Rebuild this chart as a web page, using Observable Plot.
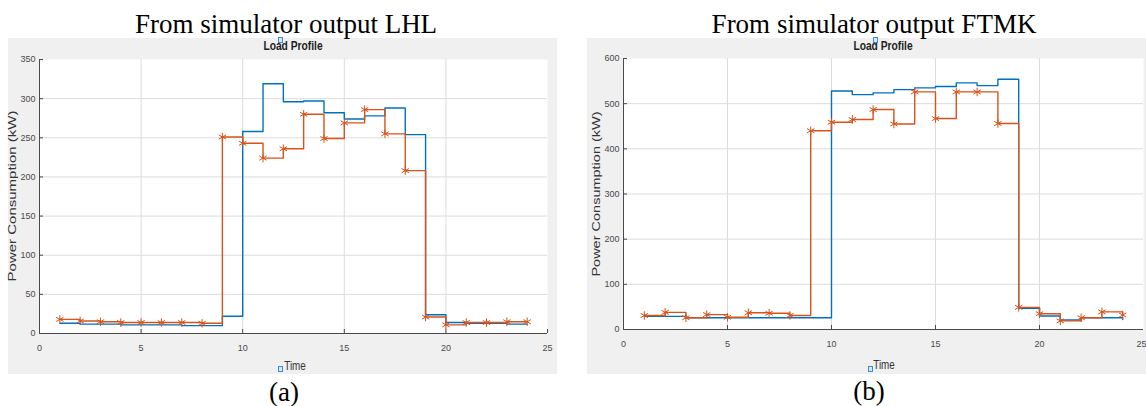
<!DOCTYPE html>
<html><head><meta charset="utf-8">
<script src="https://cdn.jsdelivr.net/npm/d3@7"></script>
<script src="https://cdn.jsdelivr.net/npm/@observablehq/plot@0.6"></script>
<style>
body{margin:0;background:#fff;}
#page{position:relative;width:1146px;height:406px;overflow:hidden;background:#fff;}
.panel{position:absolute;background:#f0f0f0;}
.chart{position:absolute;}
.t{position:absolute;white-space:nowrap;line-height:1;transform:translate(-50%,-50%);}
.serif{font-family:"Liberation Serif","Times New Roman",serif;font-size:27px;color:#000;}
.ico{position:absolute;width:3px;height:4px;border:1px solid #3d8bd4;background:#d6e8f7;}
</style>
</head><body>
<div id="page"></div>
<script>
// ---------- data ----------
const hours = [1,2,3,4,5,6,7,8,9,10,11,12,13,14,15,16,17,18,19,20,21,22,23,24];
const xTicks = [0,5,10,15,20];
const xLastTick = [25];
const xGrid = [5,10,15,20];

// (a) LHL
const lhlBlue   = [13,12,12,11,11,11,10,10,22,258,319,296,297,282,274,278,288,254,24,14,13,13,12,12];
const lhlOrange = [18,16,15,14,14,14,14,13,251,243,224,236,280,249,269,286,255,208,21,11,14,14,15,15];
const lhlYTicks = [0,50,100,150,200,250,300,350];
const lhlYGrid  = [50,100,150,200,250,300];

// (b) FTMK
const ftmkBlue   = [29,29,26,26,26,26,26,26,26,528,520,524,531,535,538,546,540,554,47,30,21,26,26,22];
const ftmkOrange = [31,38,26,33,27,37,36,31,440,459,465,487,455,526,467,526,526,456,49,35,19,26,39,32];
const ftmkYTicks = [0,100,200,300,400,500,600];
const ftmkYGrid  = [100,200,300,400,500];

const texts = {
  titleA: "From simulator output LHL",
  titleB: "From simulator output FTMK",
  plotTitle: "Load Profile",
  xLabel: "Time",
  yLabel: "Power Consumption (kW)",
  capA: "(a)",
  capB: "(b)"
};

const BLUE = "#0072BD", ORANGE = "#D95319", AX = "#4a4a4a";

// font detection (narrow sans if present)
const cv = document.createElement("canvas").getContext("2d");
cv.font = "20px 'Liberation Sans Narrow', monospace";
const w1 = cv.measureText("Power Consumption").width;
cv.font = "20px monospace";
const w2 = cv.measureText("Power Consumption").width;
const hasNarrow = Math.abs(w1 - w2) > 0.5;
const SANS = hasNarrow ? "'Liberation Sans Narrow', 'Liberation Sans', sans-serif" : "'Liberation Sans', Arial, sans-serif";
const nScale = hasNarrow ? 1 : 0.82;

const page = document.getElementById("page");
function div(cls, txt, x, y, style){
  const d = document.createElement("div");
  d.className = cls; if (txt != null) d.textContent = txt;
  d.style.left = x + "px"; d.style.top = y + "px";
  if (style) Object.assign(d.style, style);
  page.appendChild(d); return d;
}

function rows(arr){ return hours.map((t,i)=>({t, v: arr[i]})); }

function chart({blue, orange, yMax, yTicks, yGrid, ml, mr, mt, mb, lastAnchor}){
  const b = rows(blue), o = rows(orange);
  return Plot.plot({
    width: 573, height: 336,
    marginLeft: ml, marginRight: mr, marginTop: mt, marginBottom: mb,
    style: {background: "transparent", fontFamily: SANS, fontSize: (hasNarrow ? 10 : 9) + "px", color: AX, overflow: "visible"},
    x: {domain: [0, 25]},
    y: {domain: [0, yMax]},
    marks: [
      Plot.frame({fill: "white", stroke: null}),
      Plot.gridX(xGrid, {stroke: "#dcdcdc", strokeOpacity: 1}),
      Plot.gridY(yGrid, {stroke: "#dcdcdc", strokeOpacity: 1}),
      Plot.ruleX([0], {stroke: AX}),
      Plot.ruleY([0], {stroke: AX}),
      Plot.axisX(xTicks, {tickSize: -4, tickPadding: 15, label: null, stroke: AX}),
      Plot.axisX(xLastTick, {tickSize: -4, tickPadding: 15, label: null, stroke: AX, textAnchor: lastAnchor, dx: lastAnchor === "end" ? 3 : 0}),
      Plot.axisY(yTicks, {tickSize: -4, tickPadding: 8, label: null, stroke: AX}),
      Plot.line(b, {x: "t", y: "v", curve: "step-after", stroke: BLUE, strokeWidth: 1.4}),
      Plot.line(o, {x: "t", y: "v", curve: "step-after", stroke: ORANGE, strokeWidth: 1.4}),
      Plot.dot(o, {x: "t", y: "v", symbol: "asterisk", r: 4, stroke: ORANGE, strokeWidth: 1})
    ]
  });
}

// panels
div("panel", null, 8, 38, {width: "549px", height: "336px"});
div("panel", null, 587, 38, {width: "559px", height: "336px"});

const cA = chart({blue: lhlBlue, orange: lhlOrange, yMax: 350, yTicks: lhlYTicks, yGrid: lhlYGrid, ml: 39, mr: 26, mt: 21, mb: 41, lastAnchor: "middle"});
cA.classList.add("chart"); cA.style.left = "0px"; cA.style.top = "38px"; page.appendChild(cA);
const cB = chart({blue: ftmkBlue, orange: ftmkOrange, yMax: 600, yTicks: ftmkYTicks, yGrid: ftmkYGrid, ml: 50, mr: 3, mt: 20, mb: 45, lastAnchor: "end"});
cB.classList.add("chart"); cB.style.left = "573px"; cB.style.top = "38px"; page.appendChild(cB);

// titles & captions
div("t serif", texts.titleA, 286, 24);
div("t serif", texts.titleB, 874, 24);
div("t serif", texts.capA, 284, 392);
div("t serif", texts.capB, 869, 391);

const lpStyle = {fontFamily: SANS, fontWeight: "bold", fontSize: "12.5px", color: "#222", transform: `translate(-50%,-50%) scaleX(${nScale})`};
div("t", texts.plotTitle, 293, 46, lpStyle);
div("t", texts.plotTitle, 883, 46, lpStyle);
div("ico", null, 278, 37);
div("ico", null, 873, 37);

const xlStyle = {fontFamily: SANS, fontSize: "12px", color: "#333", transform: `translate(-50%,-50%) scaleX(${nScale})`};
div("t", texts.xLabel, 295, 366, xlStyle);
div("t", texts.xLabel, 884, 365, xlStyle);
div("ico", null, 278, 366);
div("ico", null, 868, 366);

const ylBase = {fontFamily: "'Liberation Sans', Arial, sans-serif", color: "#333"};
div("t", texts.yLabel, 12, 196, Object.assign({}, ylBase, {fontSize: "15px", transform: "translate(-50%,-50%) rotate(-90deg) scaleY(0.75)"}));
div("t", texts.yLabel, 596, 194, Object.assign({}, ylBase, {fontSize: "14.5px", transform: "translate(-50%,-50%) rotate(-90deg) scaleY(0.75)"}));
</script>
</body></html>
